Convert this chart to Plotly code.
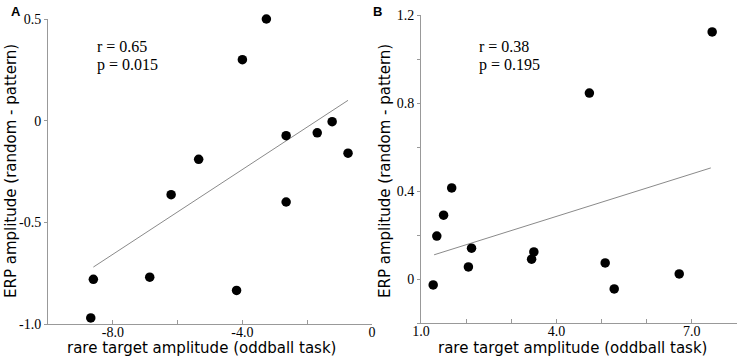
import plotly.graph_objects as go

# Panel A data
a_x = [-3.26, -4.0, -2.65, -1.69, -1.23, -0.74, -5.35, -6.2, -2.65, -8.6, -6.86, -4.18, -8.68]
a_y = [0.5, 0.30, -0.074, -0.06, -0.005, -0.16, -0.19, -0.364, -0.40, -0.78, -0.77, -0.835, -0.97]
a_fit_x = [-8.6, -0.74]
a_fit_y = [-0.72, 0.10]

# Panel B data
b_x = [7.45, 4.73, 1.68, 1.5, 1.35, 2.12, 2.05, 1.27, 3.5, 3.45, 5.08, 5.28, 6.72]
b_y = [1.123, 0.845, 0.414, 0.29, 0.195, 0.14, 0.055, -0.027, 0.123, 0.09, 0.073, -0.045, 0.023]
b_fit_x = [1.29, 7.42]
b_fit_y = [0.11, 0.505]

a_xticks = [-10, -8, -6, -4, -2, 0]
a_xlabels = ["", "-8.0", "", "-4.0", "", "0"]
a_yticks = [-1.0, -0.5, 0, 0.5]
a_ylabels = ["-1.0", "-0.5", "0", "0.5"]
b_xticks = [1, 2, 3, 4, 5, 6, 7, 8]
b_xlabels = ["1.0", "", "", "4.0", "", "", "7.0", ""]
b_yticks = [-0.2, 0, 0.2, 0.4, 0.6, 0.8, 1.0, 1.2]
b_ylabels = ["", "0", "", "0.4", "", "0.8", "", "1.2"]

xtitle = "rare target amplitude (oddball task)"
ytitle = "ERP amplitude (random - pattern)"

GRAY = "#999999"
LINE = "#8a8a8a"
SERIF = "Liberation Serif"
SANS = "DejaVu Sans"

W, H = 740, 360


def fx(px):
    return px / W


def fy(py):
    return 1 - py / H


fig = go.Figure()
fig.add_trace(go.Scatter(x=a_fit_x, y=a_fit_y, mode="lines", line=dict(color=LINE, width=1),
                         xaxis="x", yaxis="y", showlegend=False, hoverinfo="skip"))
fig.add_trace(go.Scatter(x=a_x, y=a_y, mode="markers", marker=dict(color="black", size=9.5),
                         xaxis="x", yaxis="y", showlegend=False, cliponaxis=False))
fig.add_trace(go.Scatter(x=b_fit_x, y=b_fit_y, mode="lines", line=dict(color=LINE, width=1),
                         xaxis="x2", yaxis="y2", showlegend=False, hoverinfo="skip"))
fig.add_trace(go.Scatter(x=b_x, y=b_y, mode="markers", marker=dict(color="black", size=9.5),
                         xaxis="x2", yaxis="y2", showlegend=False, cliponaxis=False))


def xax(domain, rng, tv, tt, anchor):
    return dict(domain=domain, range=rng, tickvals=tv, ticktext=tt, ticks="inside", ticklen=4,
                tickcolor=GRAY, showline=True, linecolor=GRAY, linewidth=1, showgrid=False,
                zeroline=False, anchor=anchor, automargin=False, ticklabelstandoff=-5,
                tickfont=dict(family=SERIF, size=14, color="black"))


def yax(domain, rng, tv, tt, anchor):
    return dict(domain=domain, range=rng, tickvals=tv, ticktext=tt, ticks="outside", ticklen=3,
                tickcolor=GRAY, showline=True, linecolor=GRAY, linewidth=1, showgrid=False,
                zeroline=False, anchor=anchor, automargin=False,
                tickfont=dict(family=SERIF, size=14, color="black"))


fig.update_layout(
    template="none",
    width=W, height=H, margin=dict(l=0, r=0, t=0, b=0, pad=0),
    paper_bgcolor="white", plot_bgcolor="white",
    xaxis=xax([fx(48), fx(372)], [-10, 0], a_xticks, a_xlabels, "y"),
    yaxis=yax([fy(324), fy(19)], [-1.0, 0.5], a_yticks, a_ylabels, "x"),
    xaxis2=xax([fx(421), fx(737)], [1, 8], b_xticks, b_xlabels, "y2"),
    yaxis2=yax([fy(323), fy(15)], [-0.2, 1.2001], b_yticks, b_ylabels, "x2"),
)

anns = []
anns.append(dict(x=fx(10), y=fy(3), text="<b>A</b>", xanchor="left", yanchor="top"))
anns.append(dict(x=fx(372), y=fy(3), text="<b>B</b>", xanchor="left", yanchor="top"))
for a in anns:
    a.update(xref="paper", yref="paper", showarrow=False, borderpad=0,
             font=dict(family="Liberation Sans", size=13, color="black"))

stats = [("r = 0.65", 95, 46), ("p = 0.015", 95, 65), ("r = 0.38", 477, 46), ("p = 0.195", 477, 65)]
for t, px, py in stats:
    anns.append(dict(x=fx(px), y=fy(py), text=t, xref="paper", yref="paper", showarrow=False,
                     xanchor="left", yanchor="middle", font=dict(family=SERIF, size=16, color="black")))

for cx in (201, 572):
    anns.append(dict(x=fx(cx), y=fy(348), text=xtitle, xref="paper", yref="paper", showarrow=False,
                     xanchor="center", yanchor="middle", borderpad=0,
                     font=dict(family=SANS, size=15, color="black")))
for cx in (11, 385):
    anns.append(dict(x=fx(cx), y=fy(171), text=ytitle, xref="paper", yref="paper", showarrow=False,
                     textangle=-90, xanchor="center", yanchor="middle", borderpad=0,
                     font=dict(family=SANS, size=15, color="black")))

fig.update_layout(annotations=anns)
fig.write_html("out.html", config={"displayModeBar": False},
               post_script="document.body.style.margin='0';")
